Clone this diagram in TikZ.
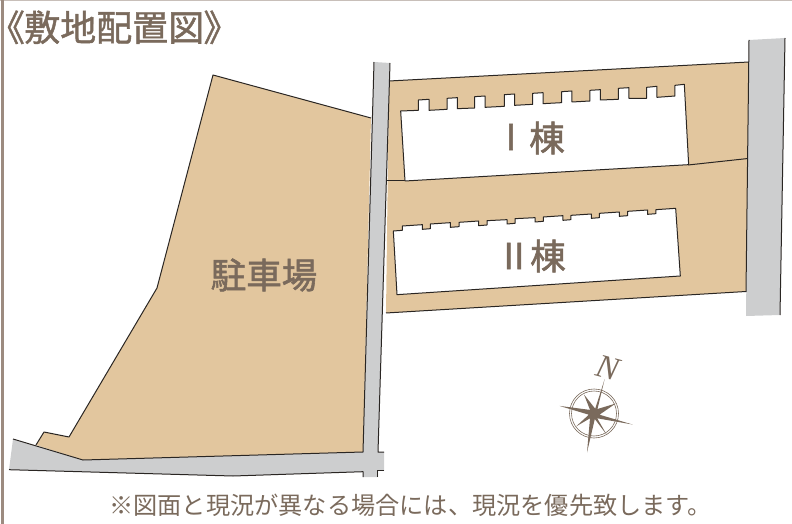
\documentclass[tikz,border=0pt]{standalone}
\usepackage{fontspec}
\newfontfamily\cjk{Noto Sans CJK JP}
\newfontfamily\cjkm[FakeBold=1.6]{Noto Sans CJK JP}
\newfontfamily\cjkt[FakeBold=1.2,RawFeature=+palt]{Noto Sans CJK JP}
\newfontfamily\nfont{Liberation Serif}
\definecolor{tan}{HTML}{E2C69E}
\definecolor{road}{HTML}{CDCECF}
\definecolor{ink}{HTML}{2A2623}
\definecolor{txt}{HTML}{7A6A5C}
\definecolor{frame}{HTML}{9C8B80}
\tikzset{
  plot line/.style={draw=ink,line width=1bp,line join=round},
  lbl/.style={inner sep=0pt,text=txt,font=\cjkm\fontsize{35.5bp}{36bp}\selectfont},
  titlechar/.style={inner sep=0pt,text=txt,font=\cjkt\fontsize{36bp}{36bp}\selectfont},
  foot/.style={inner sep=0pt,text=txt,font=\cjk\fontsize{24.2bp}{25bp}\selectfont}
}
\begin{document}
\begin{tikzpicture}[x=1bp,y=-1bp]
\useasboundingbox (0,0) rectangle (792,524);
% frame
\fill[frame!55] (0,0) rectangle (792,1.2);
\fill[frame] (1.2,0) rectangle (4,524);
% title
\node[titlechar,anchor=base west] (title) at (6,41) {《敷地配置図》};
% parking lot
\path[fill=tan] (213,75) -- (371,118) -- (363,452) -- (83,460) -- (36,445) -- (44,432) -- (69,437) -- (157,288) -- cycle;
\draw[plot line] (371,118) -- (213,75) -- (157,288) -- (69,437) -- (44,432) -- (36,445);
% lots
\path[fill=tan] (389,81) -- (749,62) -- (746,291.5) -- (386,313) -- cycle;
\draw[plot line] (389,81) -- (749,62);
\draw[plot line] (386,313) -- (746,291.5);
\draw[plot line] (387,181) -- (405,181);
\draw[plot line] (688,165) -- (748,158.5);
% central road
\path[fill=road] (374,62) -- (390,63) -- (378,452) -- (384,452) -- (384,470.7) -- (378,470.7) -- (378,477) -- (363,477) -- (363,471.7) -- (233,476) -- (9,469.7) -- (13,439) -- (83,460) -- (363,452) -- cycle;
\draw[plot line] (374,62) -- (363,452) -- (83,460) -- (13,439);
\draw[plot line] (390,63) -- (378,452) -- (384,452);
\draw[plot line] (9,469.7) -- (233,476) -- (363,471.7) -- (363,477);
\draw[plot line] (384,470.7) -- (377.5,470.7) -- (377.5,477);
% right road
\path[fill=road] (749,40) -- (785,38) -- (780,315) -- (746,316) -- cycle;
\draw[plot line] (749,40) -- (746,292);
\draw[plot line] (785,38) -- (780,315);
\begin{scope}[shift={(380,30)},x=0.33333bp,y=-0.33333bp]
\draw[plot line,fill=white] (75,453) -- (926,404) -- (913,163) -- (885,166) -- (885,198) -- (831,202) -- (831,169) -- (800,172) -- (800,205) -- (747,205) -- (747,173) -- (715,175) -- (715,208) -- (661,210) -- (661,179) -- (630,181) -- (630,213) -- (576,216) -- (576,183) -- (545,185) -- (545,218) -- (489,221) -- (489,188) -- (458,190) -- (458,223) -- (404,226) -- (404,192) -- (373,194) -- (373,229) -- (315,232) -- (315,198) -- (284,200) -- (284,234) -- (232,236) -- (232,203) -- (201,205) -- (201,238) -- (147,241) -- (147,208) -- (115,210) -- (115,241) -- (62,243) -- cycle;
\end{scope}
\begin{scope}[shift={(380,190)},x=0.33333bp,y=-0.33333bp]
\draw[plot line,fill=white] (51,314) -- (901,258) -- (887,55) -- (828,59) -- (828,71) -- (803,73) -- (803,60) -- (743,64) -- (743,77) -- (718,79) -- (718,66) -- (658,70) -- (658,83) -- (634,85) -- (634,72) -- (573,76) -- (573,89) -- (549,91) -- (549,77) -- (490,81) -- (490,94) -- (465,96) -- (465,83) -- (405,86) -- (405,100) -- (381,102) -- (381,89) -- (321,92) -- (321,105) -- (296,107) -- (296,93) -- (237,97) -- (237,110) -- (211,112) -- (211,98) -- (151,102) -- (151,116) -- (127,118) -- (127,104) -- (67,108) -- (67,121) -- (40,123) -- cycle;
\end{scope}
% labels
\node[lbl] (lotP) at (264,275) {駐車場};
\node[lbl] (b1a) at (511,137) {I};
\node[lbl] (b1b) at (547,138) {棟};
\node[lbl] (b2a) at (514,256) {II};
\node[lbl] (b2b) at (548,256) {棟};
% footer
\node[foot,anchor=base west] (note) at (109,514) {※図面と現況が異なる場合には、現況を優先致します。};
% compass
\begin{scope}[shift={(594,413.5)}]
\draw[txt,line width=0.6bp] (0,0) circle (24.5);
\draw[txt,line width=0.6bp] (0,0) circle (22.5);
\fill[txt] (10.7,-34.5) -- (3.5,-4.5) -- (21.7,-10) -- (5.5,1.2) -- (38.5,11) -- (3.2,4.8) -- (13,21.7) -- (0.8,5.5) -- (-7,39) -- (-4,4.8) -- (-18,13) -- (-5.2,1.2) -- (-34.5,-7.6) -- (-4,-3.6) -- (-10,-19) -- (1.2,-4.8) -- cycle;
\end{scope}
\node[inner sep=0pt,text=txt,rotate=-15,font=\nfont\itshape\fontsize{33bp}{33bp}\selectfont] (north) at (608,368) {N};
\end{tikzpicture}
\end{document}
